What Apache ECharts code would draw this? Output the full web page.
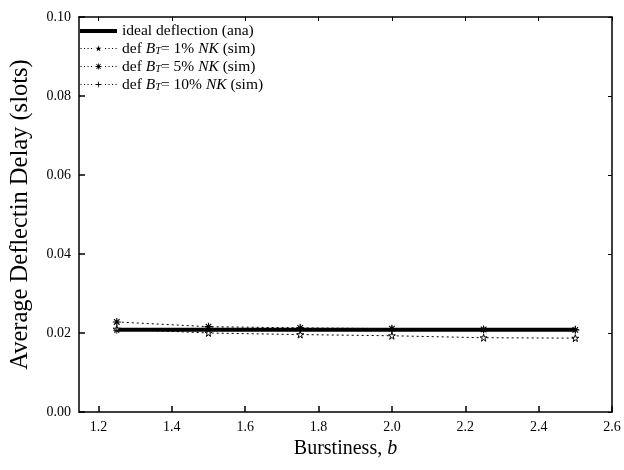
<!DOCTYPE html>
<html>
<head>
<meta charset="utf-8">
<script src="https://cdn.jsdelivr.net/npm/echarts@6/dist/echarts.min.js"></script>
<style>
  html, body { margin: 0; padding: 0; background: #fff; }
  #chart { width: 624px; height: 470px; }
</style>
</head>
<body>
<div id="chart"></div>
<script>
// burstiness values (x)
const burstiness = [1.25, 1.5, 1.75, 2.0, 2.25, 2.5];
// average deflection delay (slots)
const idealDeflection = [0.0208, 0.0208, 0.0208, 0.0208, 0.0208, 0.0208];
const sim1 = [0.0210, 0.0200, 0.0196, 0.0193, 0.0188, 0.0187];
const sim5 = [0.0228, 0.0216, 0.0213, 0.0211, 0.0209, 0.0208];
const sim10 = [0.0207, 0.0212, 0.0210, 0.0210, 0.0209, 0.0209];
const xTicks = [1.2, 1.4, 1.6, 1.8, 2.0, 2.2, 2.4, 2.6];

const font = '"Liberation Serif", "DejaVu Serif", serif';

const starPath = 'path://M5,0L6.2,3.6L10,3.6L6.9,5.8L8.1,9.5L5,7.2L1.9,9.5L3.1,5.8L0,3.6L3.8,3.6Z';
const asteriskPath = 'path://M4.3,0H5.7V10H4.3Z M0,4.3H10V5.7H0Z M1,2L2,1L9,8L8,9Z M8,1L9,2L2,9L1,8Z';
const plusPath = 'path://M4.4,0H5.6V4.4H10V5.6H5.6V10H4.4V5.6H0V4.4H4.4Z';
// legend icons (37x10): line sample with the marker in the middle, full box kept by corner dots
const box = 'M0,0L0.01,0L0,0.01Z M37,10L36.99,10L37,9.99Z ';
const thickIcon = 'path://' + box + 'M0,3H37V7H0Z';
function dottedIcon(marker) {
    let d = 'path://' + box;
    for (let x = 0.5; x < 37; x += 3.5) {
        if (x > 13.5 && x < 23) continue;
        d += 'M' + x + ',4.5H' + (x + 1.1) + 'V5.5H' + x + 'Z ';
    }
    return d + marker;
}
const starIcon = dottedIcon('M18.5,2L19.3,4.2L21.5,4.2L19.7,5.5L20.4,7.8L18.5,6.4L16.6,7.8L17.3,5.5L15.5,4.2L17.7,4.2Z');
const asteriskIcon = dottedIcon('M18.1,2H18.9V8H18.1Z M15.5,4.6H21.5V5.4H15.5Z M16.1,2.8L16.7,2.2L20.9,7.2L20.3,7.8Z M20.3,2.2L20.9,2.8L16.7,7.8L16.1,7.2Z');
const plusIcon = dottedIcon('M18.1,2.2H18.9V4.6H21.5V5.4H18.9V7.8H18.1V5.4H15.5V4.6H18.1Z');

function pairs(ys) {
    return burstiness.map((x, i) => [x, ys[i]]);
}

const chart = echarts.init(document.getElementById('chart'));

const legendRich = {
    n: { fontFamily: font, fontSize: 15.5, color: '#000', lineHeight: 16 },
    i: { fontFamily: font, fontSize: 15.5, fontStyle: 'italic', color: '#000', lineHeight: 16 },
    sub: { fontFamily: font, fontSize: 10.5, fontStyle: 'italic', color: '#000', lineHeight: 10, padding: [6, 0, 0, 0] }
};

const simLine = { color: '#000', width: 1, type: [2, 3] };
const legendItem = { color: '#000', borderWidth: 0 };

const chartOptions = {
    animation: false,
    backgroundColor: '#fff',
    grid: { left: 77, right: 12, top: 17, bottom: 58 },
    legend: {
        orient: 'vertical',
        left: 75,
        top: 18,
        itemWidth: 37,
        itemHeight: 10,
        itemGap: 1,
        textStyle: { fontFamily: font, fontSize: 15.5, color: '#000', rich: legendRich },
        data: [
            { name: 'ideal', icon: thickIcon, itemStyle: legendItem },
            { name: 'sim1', icon: starIcon, itemStyle: legendItem },
            { name: 'sim5', icon: asteriskIcon, itemStyle: legendItem },
            { name: 'sim10', icon: plusIcon, itemStyle: legendItem }
        ],
        formatter: function (name) {
            if (name === 'ideal') return '{n|ideal deflection (ana)}';
            const pct = { sim1: '1%', sim5: '5%', sim10: '10%' }[name];
            return '{n|def }{i|B}{sub|T}{n|= ' + pct + ' }{i|NK}{n| (sim)}';
        }
    },
    xAxis: [{
        type: 'value',
        min: 1.147,
        max: 2.6,
        name: '{n|Burstiness, }{i|b}',
        nameLocation: 'middle',
        nameGap: 22,
        nameTextStyle: {
            rich: {
                n: { fontFamily: font, fontSize: 20, color: '#000' },
                i: { fontFamily: font, fontSize: 20, fontStyle: 'italic', color: '#000' }
            }
        },
        axisLine: { show: true, onZero: false, lineStyle: { color: '#000', width: 1.5 } },
        axisTick: { show: true, inside: true, length: 6, customValues: xTicks, lineStyle: { color: '#000', width: 1.5 } },
        axisLabel: {
            customValues: xTicks,
            formatter: v => v.toFixed(1),
            fontFamily: font, fontSize: 14, color: '#000', margin: 8
        },
        splitLine: { show: false }
    }, {
        type: 'value',
        position: 'top',
        min: 1.147,
        max: 2.6,
        axisLine: { show: true, onZero: false, lineStyle: { color: '#000', width: 1.5 } },
        axisTick: { show: true, inside: true, length: 4, customValues: xTicks, lineStyle: { color: '#000', width: 1 } },
        axisLabel: { show: false },
        splitLine: { show: false }
    }],
    yAxis: [{
        type: 'value',
        min: 0,
        max: 0.1,
        interval: 0.02,
        name: 'Average Deflectin Delay (slots)',
        nameLocation: 'middle',
        nameGap: 46,
        nameTextStyle: { fontFamily: font, fontSize: 24.5, color: '#000' },
        axisLine: { show: true, onZero: false, lineStyle: { color: '#000', width: 1.5 } },
        axisTick: { show: true, inside: true, length: 6, lineStyle: { color: '#000', width: 1.5 } },
        axisLabel: { formatter: v => v.toFixed(2), fontFamily: font, fontSize: 14, color: '#000', margin: 8 },
        splitLine: { show: false }
    }, {
        type: 'value',
        position: 'right',
        min: 0,
        max: 0.1,
        interval: 0.02,
        axisLine: { show: true, onZero: false, lineStyle: { color: '#000', width: 1.5 } },
        axisTick: { show: true, inside: true, length: 4, lineStyle: { color: '#000', width: 1 } },
        axisLabel: { show: false },
        splitLine: { show: false }
    }],
    series: [{
        name: 'ideal',
        type: 'line',
        data: pairs(idealDeflection),
        symbol: 'none',
        lineStyle: { color: '#000', width: 4 },
        itemStyle: { color: '#000' }
    }, {
        name: 'sim1',
        type: 'line',
        data: pairs(sim1),
        symbol: starPath,
        symbolSize: 7,
        lineStyle: simLine,
        itemStyle: { color: '#fff', borderColor: '#000', borderWidth: 1 }
    }, {
        name: 'sim5',
        type: 'line',
        data: pairs(sim5),
        symbol: asteriskPath,
        symbolSize: 8,
        lineStyle: simLine,
        itemStyle: { color: '#000' }
    }, {
        name: 'sim10',
        type: 'line',
        data: pairs(sim10),
        symbol: plusPath,
        symbolSize: 7,
        lineStyle: simLine,
        itemStyle: { color: '#000' }
    }]
};

chart.setOption(chartOptions);
</script>
</body>
</html>
